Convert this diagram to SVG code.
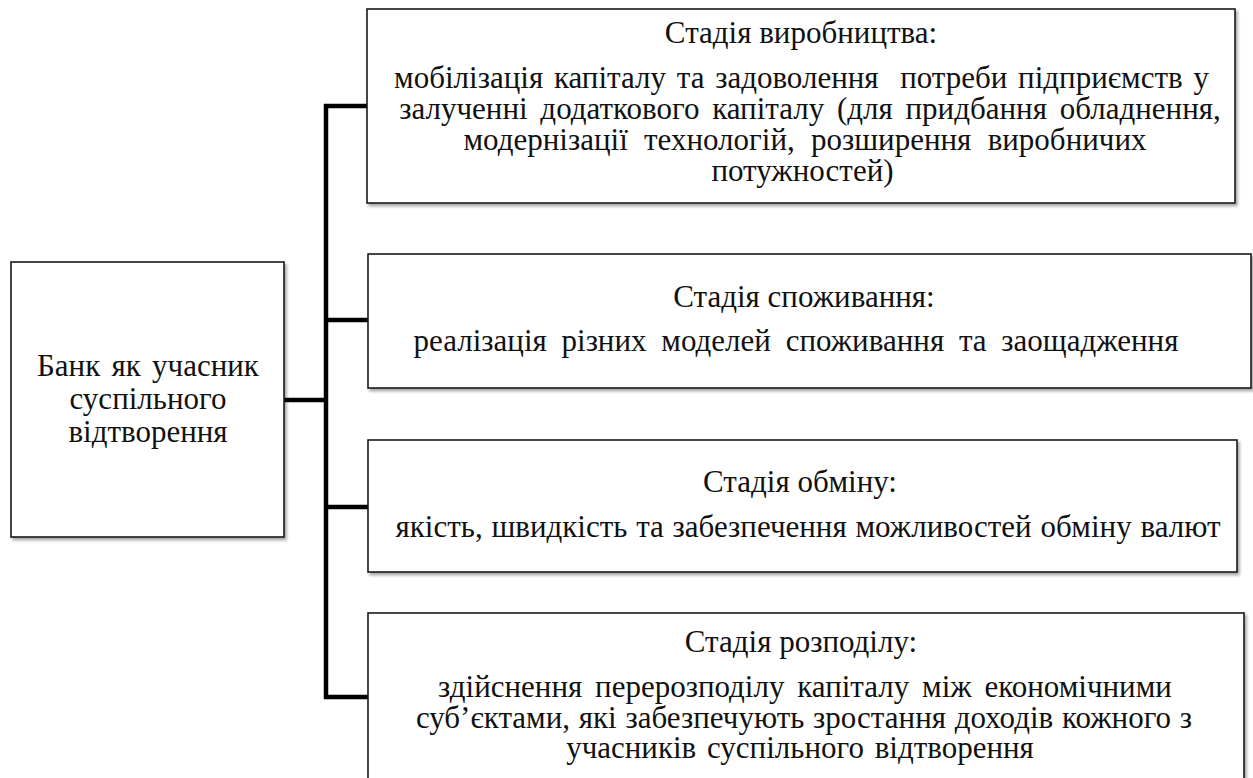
<svg xmlns="http://www.w3.org/2000/svg" width="1253" height="778" viewBox="0 0 1253 778">
  <defs>
    <filter id="shadow" x="-5%" y="-5%" width="110%" height="115%">
      <feDropShadow dx="2" dy="2.5" stdDeviation="1.5" flood-color="#000" flood-opacity="0.35"/>
    </filter>
  </defs>
  <style>
    .box { fill: #ffffff; stroke: #1a1a1a; stroke-width: 1.6; filter: url(#shadow); }
    .t { font-family: "Liberation Serif", "Times New Roman", serif; font-size: 31px; fill: #111; text-anchor: middle; white-space: pre; }
    .link { fill: none; stroke: #000; stroke-width: 4.5; stroke-linecap: butt; stroke-linejoin: miter; }
  </style>
  <rect width="1253" height="778" fill="#ffffff"/>

  <!-- connectors: trunk from the bank box to each stage -->
  <g id="connectors">
    <path class="link" d="M284 400 H326"/>
    <path class="link" d="M367 106 H326 V697 H368"/>
    <path class="link" d="M326 320 H368"/>
    <path class="link" d="M326 507 H368"/>
  </g>

  <g id="bank">
    <rect class="box" x="11" y="262" width="273" height="275"/>
    <text class="t" x="148" y="376" word-spacing="3.5">Банк як учасник</text>
    <text class="t" x="148" y="409">суспільного</text>
    <text class="t" x="148" y="442">відтворення</text>
  </g>

  <g id="production">
    <rect class="box" x="367" y="9" width="868" height="194"/>
    <text class="t" x="801" y="43">Стадія виробництва:</text>
    <text class="t" x="801.5" y="88" word-spacing="3">мобілізація капіталу та задоволення  потреби підприємств у</text>
    <text class="t" x="810" y="119" word-spacing="5">залученні додаткового капіталу (для придбання обладнення,</text>
    <text class="t" x="805" y="150" word-spacing="8.5">модернізації технологій, розширення виробничих</text>
    <text class="t" x="802.5" y="181">потужностей)</text>
  </g>

  <g id="consumption">
    <rect class="box" x="368" y="254" width="883" height="134"/>
    <text class="t" x="804" y="307">Стадія споживання:</text>
    <text class="t" x="796" y="351" word-spacing="7">реалізація різних моделей споживання та заощадження</text>
  </g>

  <g id="exchange">
    <rect class="box" x="368" y="440" width="869" height="132"/>
    <text class="t" x="800" y="492">Стадія обміну:</text>
    <text class="t" x="808" y="537" word-spacing="1">якість, швидкість та забезпечення можливостей обміну валют</text>
  </g>

  <g id="distribution">
    <rect class="box" x="368" y="613" width="876" height="170"/>
    <text class="t" x="801" y="652">Стадія розподілу:</text>
    <text class="t" x="805" y="697" word-spacing="5">здійснення перерозподілу капіталу між економічними</text>
    <text class="t" x="804" y="728" word-spacing="1">суб’єктами, які забезпечують зростання доходів кожного з</text>
    <text class="t" x="800" y="758" word-spacing="3">учасників суспільного відтворення</text>
  </g>
</svg>
